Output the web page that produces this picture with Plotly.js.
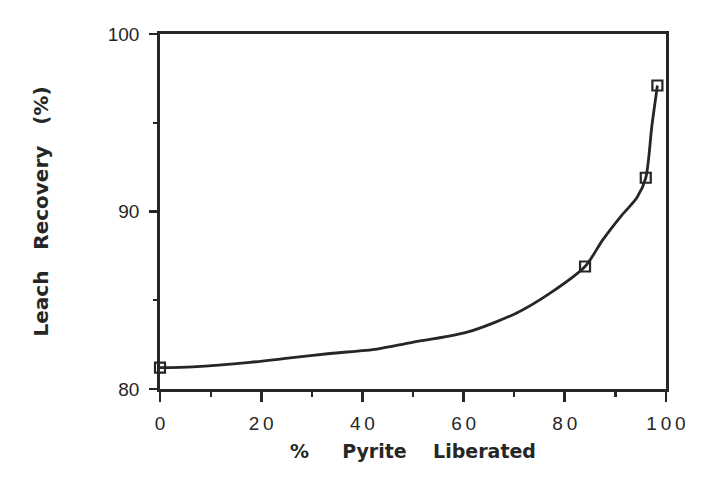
<!DOCTYPE html>
<html><head><meta charset="utf-8">
<script src="https://cdn.plot.ly/plotly-3.0.1.min.js"></script>
<style>body{margin:0;background:#fff}#c{width:717px;height:489px}</style>
</head><body><div id="c"></div>
<script>
// Measured points
const pyriteLiberated = [0, 84, 96, 98.3];
const leachRecovery = [81.2, 86.9, 91.9, 97.1];
// Fitted curve
const curveX = [0, 6.5, 17.8, 25.7, 33.6, 42.9, 49.4, 60.7, 70.6, 77.1, 84, 87.5, 91, 94.3, 96, 97.2, 98.3];
const curveY = [81.2, 81.25, 81.5, 81.75, 82.0, 82.25, 82.6, 83.2, 84.3, 85.4, 86.9, 88.4, 89.7, 90.8, 91.9, 94.8, 97.1];
const xTicks = [0, 20, 40, 60, 80, 100];
const yTicks = [80, 90, 100];

const ink = '#262626';
const traces = [
  {x: curveX, y: curveY, mode: 'lines', line: {color: ink, width: 2.8, shape: 'spline', smoothing: 0.8}, hoverinfo: 'skip', showlegend: false},
  {x: pyriteLiberated, y: leachRecovery, mode: 'markers', marker: {symbol: 'square-open', size: 10, color: ink, line: {width: 2.2, color: ink}}, showlegend: false, cliponaxis: false}
];
const tickFont = {family: 'Liberation Sans, Arial, sans-serif', size: 19, color: ink};
const layout = {
  width: 717, height: 489,
  margin: {l: 160, r: 51, t: 34, b: 100},
  paper_bgcolor: '#fff', plot_bgcolor: '#fff',
  showlegend: false,
  xaxis: {
    range: [0, 100], tickvals: xTicks, ticktext: xTicks.map(v => String(v).split('').join('\u2009')),
    showgrid: false, zeroline: false, showline: true, mirror: true, linecolor: ink, linewidth: 2.8,
    ticks: 'outside', ticklen: 10, tickwidth: 2.8, tickcolor: ink, ticklabelstandoff: 5,
    minor: {dtick: 10, tick0: 0, ticks: 'outside', ticklen: 5, tickwidth: 2.2, tickcolor: ink},
    tickfont: tickFont,
    title: {text: '<b>%\u00a0\u00a0\u00a0\u00a0\u00a0Pyrite\u00a0\u00a0\u00a0\u00a0Liberated</b>', font: {family: 'DejaVu Sans, sans-serif', size: 19, color: ink}, standoff: 13}
  },
  yaxis: {
    range: [80, 100], tickvals: yTicks,
    showgrid: false, zeroline: false, showline: true, mirror: true, linecolor: ink, linewidth: 2.8,
    ticks: 'outside', ticklen: 8, tickwidth: 2.8, tickcolor: ink, ticklabelstandoff: 6,
    minor: {dtick: 5, tick0: 80, ticks: 'outside', ticklen: 4, tickwidth: 2.2, tickcolor: ink},
    tickfont: tickFont,
    title: {text: '<b>Leach\u00a0\u00a0\u00a0Recovery\u00a0\u00a0\u00a0(%)</b>', font: {family: 'DejaVu Sans, sans-serif', size: 20, color: ink}, standoff: 54}
  }
};
Plotly.newPlot('c', traces, layout, {staticPlot: true, displayModeBar: false});
</script></body></html>
